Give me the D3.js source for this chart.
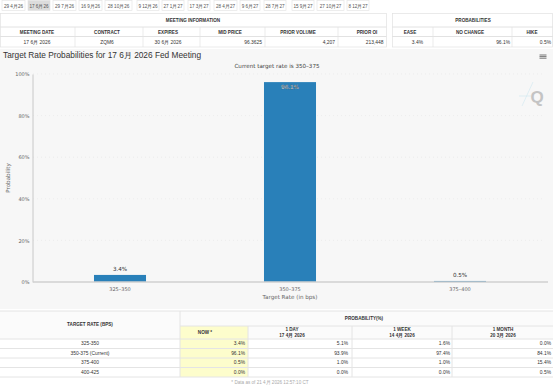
<!DOCTYPE html>
<html><head><meta charset="utf-8">
<script src="https://cdn.jsdelivr.net/npm/d3@7"></script>
<style>
html,body{margin:0;padding:0;background:#fff;}
svg{display:block;font-family:"Liberation Sans",Arial,sans-serif;}
</style></head>
<body><svg id="c" width="553" height="386"></svg>
<script>
// ---- data ----
const tabs = ["29 4月26","17 6月26","29 7月26","16 9月26","28 10月26","9 12月26","27 1月27","17 3月27","28 4月27","9 6月27","28 7月27","15 9月27","27 10月27","8 12月27"];
const selectedTab = "17 6月26";
const meetingHeaders = ["MEETING DATE","CONTRACT","EXPIRES","MID PRICE","PRIOR VOLUME","PRIOR OI"];
const meetingValues = ["17 6月 2026","ZQM6","30 6月 2026","96.3625","4,207","213,448"];
const probHeaders = ["EASE","NO CHANGE","HIKE"];
const probValues = ["3.4%","96.1%","0.5%"];
const categories = ["325–350","350–375","375–400"];
const probabilities = [3.4, 96.1, 0.5];
const yTicks = [0,20,40,60,80,100];
const tableRates = ["325-350","350-375 (Current)","375-400","400-425"];
const nowVals = ["3.4%","96.1%","0.5%","0.0%"];
const dayVals = ["5.1%","93.9%","1.0%","0.0%"];
const weekVals = ["1.6%","97.4%","1.0%","0.0%"];
const monthVals = ["0.0%","84.1%","15.4%","0.5%"];
const colHeads = [["NOW *",""],["1 DAY","17 4月 2026"],["1 WEEK","14 4月 2026"],["1 MONTH","20 3月 2026"]];

const svg = d3.select("#c");
const fs = 4.6;

// ---- tabs ----
const tabX = [2,28,53,79,105,137,162,188,214,240,264,292,317,347];
const tabW = [23,22,23,23,27,22,22,22,23,20,22,22,27,22];
tabs.forEach((t,i)=>{
  svg.append("rect").attr("x",tabX[i]).attr("y",0.5).attr("width",tabW[i]).attr("height",10)
    .attr("fill", t===selectedTab?"#dcdcdc":"#fff").attr("stroke","#e2e2e2").attr("stroke-width",0.6);
  svg.append("text").attr("x",tabX[i]+tabW[i]/2).attr("y",7.6).attr("text-anchor","middle")
    .attr("font-size",4.6).attr("fill","#555").text(t);
});

// ---- meeting info table ----
const mt = svg.append("g");
mt.append("rect").attr("x",0.5).attr("y",13.5).attr("width",386).attr("height",33.5).attr("fill","#fff").attr("stroke","#e2e2e2").attr("stroke-width",0.7);
mt.append("line").attr("x1",0).attr("x2",386.5).attr("y1",27).attr("y2",27).attr("stroke","#e2e2e2");
mt.append("line").attr("x1",0).attr("x2",386.5).attr("y1",36.5).attr("y2",36.5).attr("stroke","#e2e2e2");
mt.append("text").attr("x",193).attr("y",22).attr("text-anchor","middle").attr("font-size",fs).attr("font-weight","bold").attr("fill","#333").text("MEETING INFORMATION");
const mcols = [0,75,143,200,265,338,386.5];
const mcent = [37,107,168,230,298,367];
mcols.slice(1,-1).forEach(x=>mt.append("line").attr("x1",x).attr("x2",x).attr("y1",27).attr("y2",47).attr("stroke","#e2e2e2").attr("stroke-width",0.7));
meetingHeaders.forEach((h,i)=>mt.append("text").attr("x",mcent[i]).attr("y",33.5).attr("text-anchor","middle").attr("font-size",fs).attr("font-weight","bold").attr("fill","#333").text(h));
meetingValues.forEach((v,i)=>{
  const right = i>=3;
  mt.append("text").attr("x", right? mcols[i+1]-3 : mcent[i]).attr("y",43.5)
    .attr("text-anchor", right?"end":"middle").attr("font-size",fs+0.3).attr("fill","#333").text(v);
});

// ---- probabilities table ----
const pt = svg.append("g");
pt.append("rect").attr("x",392.5).attr("y",13.5).attr("width",160).attr("height",33.5).attr("fill","#fff").attr("stroke","#e2e2e2").attr("stroke-width",0.7);
pt.append("line").attr("x1",392).attr("x2",553).attr("y1",27).attr("y2",27).attr("stroke","#e2e2e2");
pt.append("line").attr("x1",392).attr("x2",553).attr("y1",36.5).attr("y2",36.5).attr("stroke","#e2e2e2");
pt.append("text").attr("x",473).attr("y",22).attr("text-anchor","middle").attr("font-size",fs).attr("font-weight","bold").attr("fill","#333").text("PROBABILITIES");
const pcols = [392.5,433,512,553];
const pcent = [410,470,532];
pcols.slice(1,-1).forEach(x=>pt.append("line").attr("x1",x).attr("x2",x).attr("y1",27).attr("y2",47).attr("stroke","#e2e2e2").attr("stroke-width",0.7));
probHeaders.forEach((h,i)=>pt.append("text").attr("x",pcent[i]).attr("y",33.5).attr("text-anchor","middle").attr("font-size",fs).attr("font-weight","bold").attr("fill","#333").text(h));
const pright = [423,510,551];
probValues.forEach((v,i)=>pt.append("text").attr("x",pright[i]).attr("y",43.5).attr("text-anchor","end").attr("font-size",fs+0.3).attr("fill","#333").text(v));

// ---- chart ----
svg.append("rect").attr("x",0).attr("y",49).attr("width",553).attr("height",260).attr("fill","#f7f7f7");
svg.append("text").attr("x",3).attr("y",58).attr("font-size",8.3).attr("fill","#333").text("Target Rate Probabilities for 17 6月 2026 Fed Meeting");
svg.append("text").attr("x",277).attr("y",68).attr("text-anchor","middle").attr("font-family","DejaVu Sans").attr("font-size",5.6).attr("fill","#444").text("Current target rate is 350–375");

const x = d3.scaleBand().domain(categories).range([35,545]).paddingInner(0.694).paddingOuter(0.347);
const y = d3.scaleLinear().domain([0,100]).range([282,74]);

// gridlines (faint dotted)
const g = svg.append("g");
g.selectAll("line.grid").data(yTicks.filter(d=>d>0)).join("line")
  .attr("x1",33).attr("x2",545).attr("y1",d=>y(d)).attr("y2",d=>y(d))
  .attr("stroke","#e6e6e6").attr("stroke-width",0.6).attr("stroke-dasharray","1,3");

// y axis
const yAxis = d3.axisLeft(y).tickValues(yTicks).tickFormat(d=>d+"%").tickSize(0).tickPadding(3);
const ya = svg.append("g").attr("transform","translate(32.5,0)").call(yAxis);
ya.select(".domain").attr("stroke","#c8c8c8").attr("stroke-width",1);
ya.selectAll("text").attr("font-family","DejaVu Sans").attr("font-size",5).attr("fill","#666");
svg.append("text").attr("transform","translate(10,178) rotate(-90)").attr("text-anchor","middle")
  .attr("font-family","DejaVu Sans").attr("font-size",5.6).attr("fill","#666").text("Probability");

// bars
svg.selectAll("rect.bar").data(probabilities).join("rect").attr("class","bar")
  .attr("x",(d,i)=>x(categories[i])).attr("width",x.bandwidth())
  .attr("y",d=>y(d)).attr("height",d=>Math.max(282-y(d),1))
  .attr("fill","#2980b9");

// x axis
const xAxis = d3.axisBottom(x).tickSize(0).tickPadding(5);
const xa = svg.append("g").attr("transform","translate(0,282)").call(xAxis);
xa.select(".domain").attr("stroke","#d0d0d0").attr("stroke-width",1.6).attr("d","M33,0H548");
xa.selectAll("text").attr("font-family","DejaVu Sans").attr("font-size",5).attr("fill","#666");
svg.append("text").attr("x",290).attr("y",299).attr("text-anchor","middle").attr("font-family","DejaVu Sans").attr("font-size",5.6).attr("fill","#666").text("Target Rate (in bps)");

// bar labels
probabilities.forEach((d,i)=>{
  const inside = d>50;
  svg.append("text").attr("x",x(categories[i])+x.bandwidth()/2)
    .attr("y", inside? y(d)+7 : y(d)-4).attr("text-anchor","middle")
    .attr("font-family","DejaVu Sans").attr("font-size",5.6)
    .attr("fill", inside?"#fff":"#333")
    .attr("stroke", inside?"#555":"none").attr("stroke-width",inside?0.25:0)
    .text(d.toFixed(1)+"%");
});

// menu icon
[0,1.6,3.2].forEach(o=>svg.append("rect").attr("x",539.5).attr("y",54.5+o).attr("width",7).attr("height",1).attr("fill","#777"));
// watermark Q
svg.append("text").attr("x",537).attr("y",103).attr("text-anchor","middle").attr("font-size",17).attr("font-weight","bold").attr("fill","#c4c4c4").text("Q");
svg.append("line").attr("x1",522).attr("y1",106).attr("x2",533).attr("y2",82).attr("stroke","#cfe8f0").attr("stroke-width",0.6);
svg.append("line").attr("x1",519).attr("y1",96).attr("x2",531).attr("y2",96).attr("stroke","#cfe8f0").attr("stroke-width",0.6);

// ---- bottom table ----
const bt = svg.append("g");
bt.append("rect").attr("x",0).attr("y",311).attr("width",553).attr("height",75).attr("fill","#fff");
bt.append("rect").attr("x",0).attr("y",311).attr("width",553).attr("height",28).attr("fill","#fbfbfb");
bt.append("rect").attr("x",180).attr("y",326).attr("width",68).attr("height",51).attr("fill","#fdfdcc");
bt.append("line").attr("x1",0).attr("x2",553).attr("y1",311).attr("y2",311).attr("stroke","#e4e4e4");
bt.append("line").attr("x1",180).attr("x2",553).attr("y1",326).attr("y2",326).attr("stroke","#e4e4e4");
const rowTops = [339,348.5,358,367.5,377];
rowTops.forEach(r=>bt.append("line").attr("x1",0).attr("x2",553).attr("y1",r).attr("y2",r).attr("stroke","#e4e4e4"));
[180].forEach(xx=>bt.append("line").attr("x1",xx).attr("x2",xx).attr("y1",311).attr("y2",377).attr("stroke","#e4e4e4"));
[248,352,452].forEach(xx=>bt.append("line").attr("x1",xx).attr("x2",xx).attr("y1",326).attr("y2",377).attr("stroke","#e4e4e4"));
bt.append("text").attr("x",90).attr("y",326).attr("text-anchor","middle").attr("font-size",fs).attr("font-weight","bold").attr("fill","#333").text("TARGET RATE (BPS)");
bt.append("text").attr("x",364).attr("y",320).attr("text-anchor","middle").attr("font-size",fs).attr("font-weight","bold").attr("fill","#333").text("PROBABILITY(%)");
const hc = [205,292,402,503];
colHeads.forEach((h,i)=>{
  if(h[1]===""){
    bt.append("text").attr("x",hc[i]).attr("y",334).attr("text-anchor","middle").attr("font-size",fs).attr("font-weight","bold").attr("fill","#333").text(h[0]);
  } else {
    bt.append("text").attr("x",hc[i]).attr("y",331).attr("text-anchor","middle").attr("font-size",fs).attr("font-weight","bold").attr("fill","#333").text(h[0]);
    bt.append("text").attr("x",hc[i]).attr("y",336.5).attr("text-anchor","middle").attr("font-size",fs).attr("font-weight","bold").attr("fill","#333").text(h[1]);
  }
});
const cols = [nowVals,dayVals,weekVals,monthVals];
const rightX = [245,348,450,551];
tableRates.forEach((r,i)=>{
  const ty = rowTops[i]+6.4;
  bt.append("text").attr("x",90).attr("y",ty).attr("text-anchor","middle").attr("font-size",fs+0.3).attr("fill","#333").text(r);
  cols.forEach((c,j)=>bt.append("text").attr("x",rightX[j]).attr("y",ty).attr("text-anchor","end").attr("font-size",fs+0.3).attr("fill","#333").text(c[i]));
});
bt.append("text").attr("x",270).attr("y",383.5).attr("text-anchor","middle").attr("font-size",fs).attr("fill","#aaa").text("* Data as of 21 4月 2026 12:57:10 CT");
</script></body></html>
